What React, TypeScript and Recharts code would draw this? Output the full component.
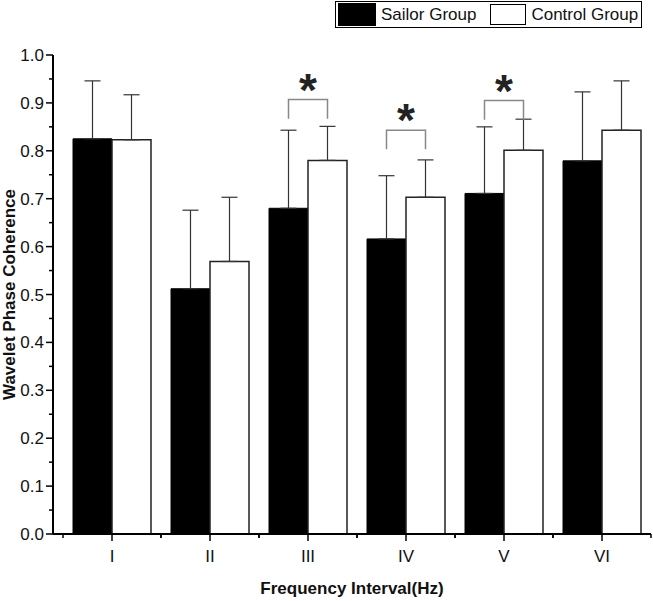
import React from 'react';
import { BarChart, Bar, XAxis, YAxis, ErrorBar, LabelList, Label } from 'recharts';

const categories = ['I', 'II', 'III', 'IV', 'V', 'VI'];
const sailor = [0.825, 0.512, 0.68, 0.616, 0.711, 0.779];
const control = [0.823, 0.569, 0.78, 0.703, 0.801, 0.843];
const sailorErr = [0.121, 0.164, 0.163, 0.132, 0.139, 0.144];
const controlErr = [0.094, 0.134, 0.071, 0.078, 0.065, 0.103];
// bracket height for significant pairs (null = none)
const bracket = [null, null, 0.907, 0.843, 0.905, null];
const yTicks = [0, 0.05, 0.1, 0.15, 0.2, 0.25, 0.3, 0.35, 0.4, 0.45, 0.5, 0.55, 0.6, 0.65, 0.7, 0.75, 0.8, 0.85, 0.9, 0.95, 1.0];

const FONT = '"Liberation Sans", Arial, sans-serif';

const data = categories.map((c, i) => ({
  name: c,
  sailor: sailor[i],
  control: control[i],
  sailorErr: [0, sailorErr[i]],
  controlErr: [0, controlErr[i]],
  bracket: bracket[i],
}));

const YTick = (props: any) => {
  const { x, y, payload } = props;
  const major = Math.round(payload.value * 100) % 10 === 0;
  return (
    <g>
      <line x1={x - (major ? 7 : 4)} x2={x} y1={y} y2={y} stroke="#000" strokeWidth={1.5} />
      {major && (
        <text x={x - 9} y={y} dy={6} textAnchor="end" fontSize={17} fontFamily={FONT} fill="#111">
          {payload.value.toFixed(1)}
        </text>
      )}
    </g>
  );
};

const XTick = (props: any) => {
  const { x, y, payload } = props;
  const half = 49;
  return (
    <g>
      <line x1={x} x2={x} y1={y} y2={y + 7} stroke="#000" strokeWidth={1.5} />
      <line x1={x - half} x2={x - half} y1={y} y2={y + 4} stroke="#000" strokeWidth={1.5} />
      <line x1={x + half} x2={x + half} y1={y} y2={y + 4} stroke="#000" strokeWidth={1.5} />
      <text x={x} y={y + 28} textAnchor="middle" fontSize={17} fontFamily={FONT} fill="#111">
        {payload.value}
      </text>
    </g>
  );
};

const Bracket = (props: any) => {
  const { x, y, width, height, value, index } = props;
  if (value == null) return null;
  const v = data[index].sailor;
  const base = y + height;
  const pxPer = height / v;
  const top = base - value * pxPer;
  const drop = 0.04 * pxPer;
  const x1 = x + width / 2;
  const x2 = x + width * 1.5;
  return (
    <g>
      <path d={`M${x1},${top + drop} L${x1},${top} L${x2},${top} L${x2},${top + drop}`} fill="none" stroke="#888" strokeWidth={1.5} />
      <text x={(x1 + x2) / 2} y={top + 6} textAnchor="middle" fontSize={46} fontWeight="bold" fontFamily={FONT} fill="#222">
        *
      </text>
    </g>
  );
};

const App: React.FC = () => {
  return (
    <div style={{ position: 'absolute', left: 0, top: 0, width: 653, height: 601, background: '#fff' }}>
      <BarChart
        width={653}
        height={601}
        data={data}
        margin={{ top: 55, right: 2, left: 0, bottom: 0 }}
        barCategoryGap={10}
        barGap={0}
      >
        <XAxis
          dataKey="name"
          height={67}
          padding={{ left: 10, right: 0 }}
          axisLine={{ stroke: '#000', strokeWidth: 2 }}
          tickLine={false}
          tickSize={0}
          tickMargin={0}
          tick={<XTick />}
          interval={0}
        >
          <Label
            value="Frequency Interval(Hz)"
            position="insideBottom"
            offset={7}
            style={{ fontFamily: FONT, fontSize: 17, fontWeight: 'bold', fill: '#111' }}
          />
        </XAxis>
        <YAxis
          width={53}
          domain={[0, 1]}
          ticks={yTicks}
          interval={0}
          axisLine={{ stroke: '#000', strokeWidth: 2 }}
          tickLine={false}
          tickSize={0}
          tickMargin={0}
          tick={<YTick />}
        >
          <Label
            value="Wavelet Phase Coherence"
            angle={-90}
            position="insideLeft"
            offset={9}
            style={{ textAnchor: 'middle', fontFamily: FONT, fontSize: 17, fontWeight: 'bold', fill: '#111' }}
          />
        </YAxis>
        <Bar dataKey="sailor" name="Sailor Group" fill="#000" stroke="#000" isAnimationActive={false}>
          <ErrorBar dataKey="sailorErr" width={8} stroke="#333" strokeWidth={1.2} direction="y" />
          <LabelList dataKey="bracket" content={<Bracket />} />
        </Bar>
        <Bar dataKey="control" name="Control Group" fill="#fff" stroke="#222" strokeWidth={1.5} isAnimationActive={false}>
          <ErrorBar dataKey="controlErr" width={8} stroke="#333" strokeWidth={1.2} direction="y" />
        </Bar>
      </BarChart>
      <div
        style={{
          position: 'absolute',
          left: 335,
          top: 1,
          width: 305,
          height: 25,
          border: '1px solid #000',
          display: 'flex',
          alignItems: 'center',
          fontFamily: FONT,
          fontSize: 17,
          color: '#111',
          whiteSpace: 'nowrap',
        }}
      >
        <span style={{ width: 36, height: 21, background: '#000', marginLeft: 2, border: '1px solid #000' }} />
        <span style={{ marginLeft: 5 }}>Sailor Group</span>
        <span style={{ width: 34, height: 19, background: '#fff', marginLeft: 14, border: '1px solid #000' }} />
        <span style={{ marginLeft: 5 }}>Control Group</span>
      </div>
    </div>
  );
};

export default App;
